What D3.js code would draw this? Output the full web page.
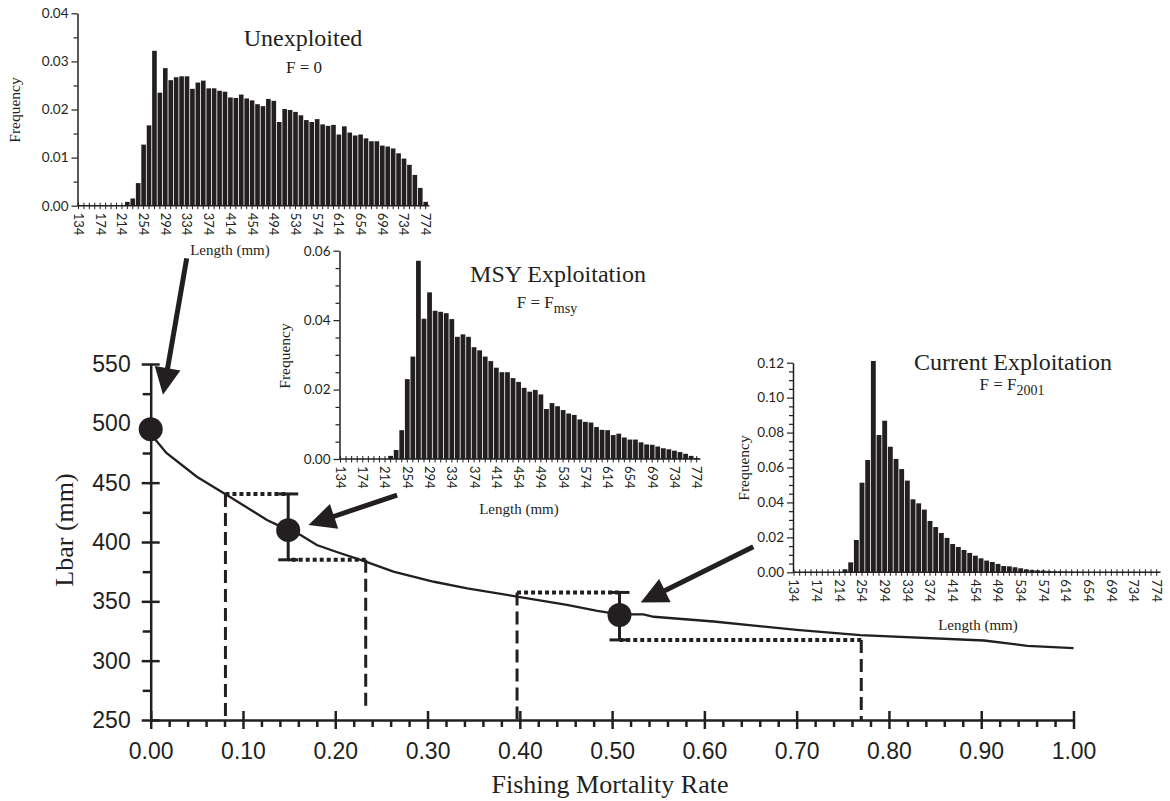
<!DOCTYPE html>
<html>
<head>
<meta charset="utf-8">
<script src="https://cdn.jsdelivr.net/npm/d3@7"></script>
<style>
  body { margin: 0; background: #fff; }
  svg { display: block; }
</style>
</head>
<body>
<div id="chart"></div>
<script>
// length classes (mm), 10 mm wide
var lengthBins = d3.range(134, 775, 10);
var lengthLabels = [134, 174, 214, 254, 294, 334, 374, 414, 454, 494, 534, 574, 614, 654, 694, 734, 774];

// frequency of each length class
var unexploitedFreq = [0, 0, 0, 0, 0, 0, 0, 0, 0,
  0.0008, 0.0015, 0.0047, 0.0127, 0.0167, 0.0322, 0.0235, 0.0286, 0.0261, 0.0267,
  0.0269, 0.0269, 0.0243, 0.0256, 0.026, 0.0244, 0.0244, 0.0239, 0.0237, 0.0225,
  0.0224, 0.0231, 0.0223, 0.0219, 0.0211, 0.0207, 0.0222, 0.0218, 0.0174, 0.0201,
  0.0199, 0.0195, 0.0188, 0.0178, 0.0174, 0.018, 0.0169, 0.0166, 0.0168, 0.0148,
  0.0165, 0.0152, 0.0146, 0.0148, 0.014, 0.0134, 0.0134, 0.0125, 0.0123, 0.0119,
  0.0109, 0.0098, 0.0085, 0.0064, 0.0037, 0.0008];

var msyFreq = [0, 0, 0, 0, 0, 0, 0, 0, 0,
  0.0009, 0.0026, 0.0083, 0.023, 0.0295, 0.0571, 0.0404, 0.048, 0.0427, 0.0424,
  0.042, 0.0403, 0.0352, 0.0359, 0.0352, 0.0322, 0.0313, 0.0295, 0.0282, 0.0263,
  0.025, 0.025, 0.0233, 0.0222, 0.0205, 0.0194, 0.0199, 0.0186, 0.0144, 0.0161,
  0.0152, 0.0141, 0.0131, 0.0127, 0.0114, 0.0107, 0.0105, 0.0092, 0.0084, 0.0083,
  0.0069, 0.0073, 0.0062, 0.0056, 0.0056, 0.0048, 0.0042, 0.0041, 0.0036, 0.0031,
  0.0028, 0.0024, 0.002, 0.0015, 0.0009, 0.0003];

var currentFreq = [0, 0, 0, 0, 0, 0, 0, 0, 0,
  0.0017, 0.0057, 0.0185, 0.0513, 0.0643, 0.121, 0.0786, 0.0868, 0.0719, 0.0649,
  0.0591, 0.0525, 0.0418, 0.0395, 0.0359, 0.0294, 0.0259, 0.0225, 0.0197, 0.0162,
  0.0145, 0.0128, 0.0111, 0.0095, 0.008, 0.0067, 0.0059, 0.0048, 0.0036, 0.0034,
  0.0029, 0.0023, 0.0017, 0.0013, 0.0011, 0.001, 0.0008, 0.0006, 0.0005, 0.0004,
  0.0003, 0.0002, 0.0002, 0.0001, 0.0001, 0.0001, 0, 0, 0, 0,
  0, 0, 0, 0, 0, 0];

// Lbar vs fishing mortality
var curveF =    [0,   0.017, 0.05, 0.086, 0.126, 0.149, 0.162, 0.18,  0.2, 0.233, 0.263, 0.307, 0.343, 0.397, 0.451, 0.484, 0.508, 0.534, 0.545, 0.61, 0.70, 0.769, 0.903, 0.95,  1.0];
var curveLbar = [491, 475,   455,  438,   418.5, 410,   406,   397.5, 392, 383.5, 375,   366.5, 361,   354,   347,   342,   339,   339,   337,   333,  326,  321.6, 317,   312.5, 310.5];

// the three highlighted points, with error bars
var pointF =    [0,   0.149, 0.508];
var pointLbar = [495, 410,   338.5];
var pointLow =  [null, 385,  317.5];
var pointHigh = [null, 440.5, 357.5];

// guide lines: where the error limits meet the curve
var guideF =     [0.081, 0.233, 0.397, 0.770];
var guideLbar =  [440.5, 385,   357.5, 317.5];
var guideEnd =   [250,   261,   250,   250];
var guidePoint = [1,     1,     2,     2];

// arrows from the histograms to the points (tail, tip)
var arrowTailF =    [0.039, 0.267, 0.653];
var arrowTailLbar = [639,   439.6, 396];
var arrowTipF =     [0.0133, 0.171, 0.531];
var arrowTipLbar =  [524,   414.3, 349];

var ink = "#231f20";
var serif = "'Liberation Serif', 'Times New Roman', serif";
var sans = "'Liberation Sans', Arial, sans-serif";
var roundSans = "Lato, 'Liberation Sans', sans-serif";

var svg = d3.select("#chart")
  .append("svg")
  .attr("width", 1170)
  .attr("height", 801);

svg.append("rect").attr("width", 1170).attr("height", 801).attr("fill", "#fff");

// ---------- main chart ----------
var x = d3.scaleLinear().domain([0, 1]).range([150.7, 1073.5]);
var y = d3.scaleLinear().domain([250, 550]).range([720, 364]);

var main = svg.append("g");

// guide lines (dashed verticals, dotted horizontals)
guideF.forEach(function(f, i) {
  var p = guidePoint[i];
  main.append("line")
    .attr("x1", x(f)).attr("x2", x(pointF[p]))
    .attr("y1", y(guideLbar[i])).attr("y2", y(guideLbar[i]))
    .attr("stroke", ink).attr("stroke-width", 4)
    .attr("stroke-dasharray", "4,3");
  main.append("line")
    .attr("x1", x(f)).attr("x2", x(f))
    .attr("y1", y(guideLbar[i])).attr("y2", y(guideEnd[i]))
    .attr("stroke", ink).attr("stroke-width", 3)
    .attr("stroke-dasharray", "13,6");
});

// the curve
var line = d3.line()
  .x(function(d, i) { return x(curveF[i]); })
  .y(function(d) { return y(d); });

main.append("path")
  .datum(curveLbar)
  .attr("d", line)
  .attr("fill", "none")
  .attr("stroke", ink)
  .attr("stroke-width", 2.3);

// error bars
pointF.forEach(function(f, i) {
  if (pointLow[i] == null) return;
  var g = main.append("g").attr("stroke", ink).attr("stroke-width", 3);
  g.append("line").attr("x1", x(f)).attr("x2", x(f)).attr("y1", y(pointLow[i])).attr("y2", y(pointHigh[i]));
  g.append("line").attr("x1", x(f) - 10).attr("x2", x(f) + 10).attr("y1", y(pointLow[i])).attr("y2", y(pointLow[i]));
  g.append("line").attr("x1", x(f) - 10).attr("x2", x(f) + 10).attr("y1", y(pointHigh[i])).attr("y2", y(pointHigh[i]));
});

// axes
var xMajor = d3.range(0, 11).map(function(d) { return d / 10; });
var xMinor = d3.range(0, 51).map(function(d) { return d / 50; }).filter(function(d, i) { return i % 5 != 0; });
var yMajor = [250, 300, 350, 400, 450, 500, 550];
var yMinor = [275, 325, 375, 425, 475, 525];

var gx = main.append("g")
  .attr("transform", "translate(0," + y(250) + ")")
  .call(d3.axisBottom(x).tickValues(xMajor).tickSize(9).tickSizeOuter(0).tickPadding(14).tickFormat(d3.format(".2f")));
gx.selectAll(".tick line").attr("y1", -9);
var gxm = main.append("g")
  .attr("transform", "translate(0," + y(250) + ")")
  .call(d3.axisBottom(x).tickValues(xMinor).tickSize(7).tickSizeOuter(0).tickFormat(""));
gxm.select(".domain").remove();

var gy = main.append("g")
  .attr("transform", "translate(" + x(0) + ",0)")
  .call(d3.axisLeft(y).tickValues(yMajor).tickSize(9).tickSizeOuter(0).tickPadding(11));
gy.selectAll(".tick line").attr("x1", 9);
var gym = main.append("g")
  .attr("transform", "translate(" + x(0) + ",0)")
  .call(d3.axisLeft(y).tickValues(yMinor).tickSize(8).tickSizeOuter(0).tickFormat(""));
gym.select(".domain").remove();

main.selectAll(".domain, .tick line").attr("stroke", ink).attr("stroke-width", 2.5);
main.selectAll(".tick text").attr("font-family", sans).attr("font-size", 23).attr("fill", ink);

// points
main.selectAll("circle.pt")
  .data(pointLbar)
  .enter()
  .append("circle")
  .attr("class", "pt")
  .attr("cx", function(d, i) { return x(pointF[i]); })
  .attr("cy", function(d) { return y(d); })
  .attr("r", 12)
  .attr("fill", ink);

// axis titles
main.append("text")
  .attr("transform", "translate(73,530) rotate(-90)")
  .attr("text-anchor", "middle")
  .attr("font-family", serif).attr("font-size", 26).attr("fill", ink)
  .text("Lbar (mm)");
main.append("text")
  .attr("x", 610).attr("y", 793)
  .attr("text-anchor", "middle")
  .attr("font-family", serif).attr("font-size", 26).attr("fill", ink)
  .text("Fishing Mortality Rate");

// arrows
arrowTailF.forEach(function(f, i) {
  var x1 = x(f), y1 = y(arrowTailLbar[i]);
  var x2 = x(arrowTipF[i]), y2 = y(arrowTipLbar[i]);
  var dx = x2 - x1, dy = y2 - y1, len = Math.sqrt(dx * dx + dy * dy);
  var ux = dx / len, uy = dy / len;
  var hl = 27, hw = 13;
  var bx = x2 - ux * hl, by = y2 - uy * hl;
  main.append("line")
    .attr("x1", x1).attr("y1", y1).attr("x2", bx + ux * 2).attr("y2", by + uy * 2)
    .attr("stroke", ink).attr("stroke-width", 5);
  main.append("path")
    .attr("d", "M" + x2 + "," + y2 +
      "L" + (bx - uy * hw) + "," + (by + ux * hw) +
      "L" + (bx + uy * hw) + "," + (by - ux * hw) + "Z")
    .attr("fill", ink);
});

// ---------- histograms ----------
var histograms = [
  { values: unexploitedFreq, cx0: 78.5, cx1: 425.7, yBase: 205.7, yTop: 13.3, yMax: 0.04, major: 0.01,
    title: "Unexploited", titleX: 303, titleY: 46, sub: "F = 0", subScript: "", subX: 304, subY: 73,
    freqX: 20, freqY: 110, lenX: 230, lenY: 255 },
  { values: msyFreq, cx0: 340.5, cx1: 696.7, yBase: 459, yTop: 250.7, yMax: 0.06, major: 0.02,
    title: "MSY Exploitation", titleX: 558, titleY: 282, sub: "F = F", subScript: "msy", subX: 547, subY: 308,
    freqX: 290, freqY: 356, lenX: 519, lenY: 514 },
  { values: currentFreq, cx0: 794, cx1: 1156.7, yBase: 572.3, yTop: 362.7, yMax: 0.12, major: 0.02,
    title: "Current Exploitation", titleX: 1013, titleY: 370, sub: "F = F", subScript: "2001", subX: 1012, subY: 390,
    freqX: 749, freqY: 468, lenX: 978, lenY: 630 }
];

histograms.forEach(function(h) {
  var g = svg.append("g");
  var hx = d3.scaleLinear().domain([134, 774]).range([h.cx0, h.cx1]);
  var hy = d3.scaleLinear().domain([0, h.yMax]).range([h.yBase, h.yTop]);
  var step = hx(144) - hx(134);

  g.selectAll("rect")
    .data(h.values)
    .enter()
    .append("rect")
    .attr("x", function(d, i) { return hx(lengthBins[i]) - step / 2 + 0.4; })
    .attr("width", step - 0.8)
    .attr("y", function(d) { return hy(d); })
    .attr("height", function(d) { return hy(0) - hy(d); })
    .attr("fill", ink);

  var axisX0 = hx(134) - 1;
  // x axis: small crossing ticks at every class
  g.append("line")
    .attr("x1", axisX0).attr("x2", hx(774) + step / 2 + 1)
    .attr("y1", hy(0)).attr("y2", hy(0))
    .attr("stroke", ink).attr("stroke-width", 1.5);
  g.selectAll("line.xt")
    .data(lengthBins)
    .enter()
    .append("line")
    .attr("class", "xt")
    .attr("x1", function(d) { return hx(d); }).attr("x2", function(d) { return hx(d); })
    .attr("y1", hy(0) - 3).attr("y2", hy(0) + 3.5)
    .attr("stroke", ink).attr("stroke-width", 1);
  g.selectAll("text.xl")
    .data(lengthLabels)
    .enter()
    .append("text")
    .attr("class", "xl")
    .attr("transform", function(d) { return "translate(" + hx(d) + "," + (hy(0) + 7) + ") rotate(90)"; })
    .attr("dy", "0.35em")
    .attr("font-family", roundSans).attr("font-size", 13).attr("fill", ink)
    .text(function(d) { return d; });

  // y axis
  var majors = d3.range(0, Math.round(h.yMax / h.major) + 1).map(function(k) { return k * h.major; });
  var minors = d3.range(0, Math.round(h.yMax / 0.005) + 1).map(function(k) { return k * 0.005; })
    .filter(function(v) { return Math.abs(v / h.major - Math.round(v / h.major)) > 1e-6; });
  var gy = g.append("g")
    .attr("transform", "translate(" + axisX0 + ",0)")
    .call(d3.axisLeft(hy).tickValues(majors).tickSize(6).tickSizeOuter(0).tickPadding(3).tickFormat(d3.format(".2f")));
  var gym = g.append("g")
    .attr("transform", "translate(" + axisX0 + ",0)")
    .call(d3.axisLeft(hy).tickValues(minors).tickSize(4).tickSizeOuter(0).tickFormat(""));
  gym.select(".domain").remove();
  g.selectAll(".domain").attr("stroke", ink).attr("stroke-width", 1.5);
  g.selectAll(".tick line").attr("stroke", ink).attr("stroke-width", 1.2);
  g.selectAll(".tick text").attr("font-family", roundSans).attr("font-size", 13.5).attr("fill", ink);

  // labels
  g.append("text")
    .attr("x", h.titleX).attr("y", h.titleY)
    .attr("text-anchor", "middle")
    .attr("font-family", serif).attr("font-size", 24).attr("fill", ink)
    .text(h.title);
  var st = g.append("text")
    .attr("x", h.subX).attr("y", h.subY)
    .attr("text-anchor", "middle")
    .attr("font-family", serif).attr("font-size", 17).attr("fill", ink);
  st.append("tspan").text(h.sub);
  if (h.subScript) {
    st.append("tspan").attr("dy", 5).attr("font-size", 14).text(h.subScript);
  }
  g.append("text")
    .attr("transform", "translate(" + h.freqX + "," + h.freqY + ") rotate(-90)")
    .attr("text-anchor", "middle")
    .attr("font-family", serif).attr("font-size", 15.5).attr("fill", ink)
    .text("Frequency");
  g.append("text")
    .attr("x", h.lenX).attr("y", h.lenY)
    .attr("text-anchor", "middle")
    .attr("font-family", serif).attr("font-size", 15).attr("fill", ink)
    .text("Length (mm)");
});
</script>
</body>
</html>
